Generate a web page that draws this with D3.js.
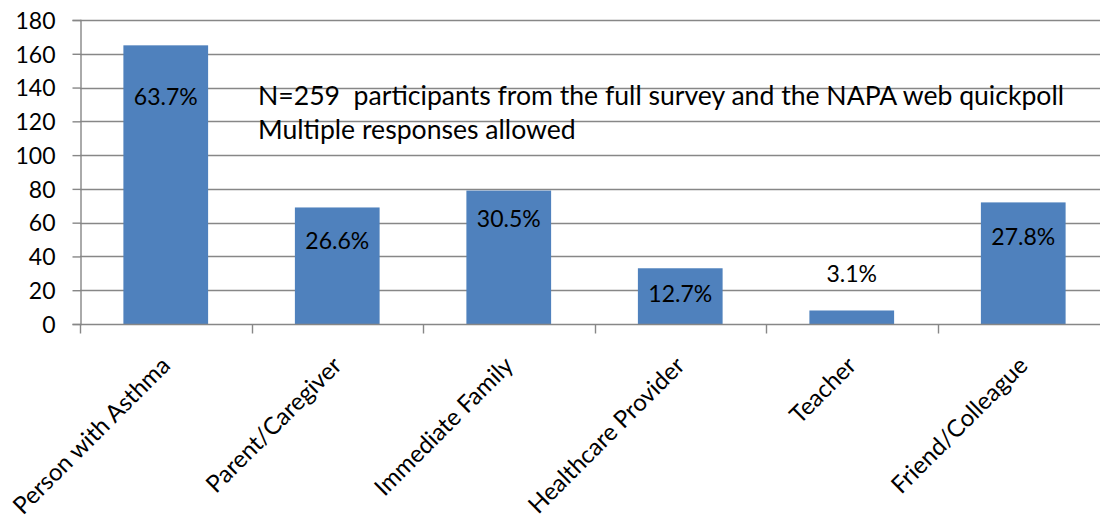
<!DOCTYPE html>
<html>
<head>
<meta charset="utf-8">
<script src="https://cdn.jsdelivr.net/npm/d3@7/dist/d3.min.js"></script>
<style>
  html, body { margin: 0; padding: 0; background: #fff; }
  svg text { font-family: Lato, "Open Sans", sans-serif; fill: #000; }
</style>
</head>
<body>
<svg id="chart" width="1100" height="518"></svg>
<script>
// Survey respondents by relationship to asthma (counts, with share of N=259)
const categories = ["Person with Asthma", "Parent/Caregiver", "Immediate Family",
                    "Healthcare Provider", "Teacher", "Friend/Colleague"];
const counts = [165, 69, 79, 33, 8, 72];
const percentLabels = ["63.7%", "26.6%", "30.5%", "12.7%", "3.1%", "27.8%"];
const yTicks = [0, 20, 40, 60, 80, 100, 120, 140, 160, 180];
const noteLines = ["N=259  participants from the full survey and the NAPA web quickpoll",
                   "Multiple responses allowed"];

const svg = d3.select("#chart");
const fontSize = 23;
const gridColor = "#878787";
const barColor = "#4F81BD";

// Plot area (the category axis runs slightly past the right edge of the canvas)
const plotLeft = 80, plotTop = 20, plotBottom = 324;
const step = 171.5;
const plotRight = plotLeft + step * categories.length;

const x = d3.scaleBand()
  .domain(categories)
  .range([plotLeft, plotRight])
  .paddingInner(0.506)
  .paddingOuter(0.253);

const y = d3.scaleLinear().domain([0, 180]).range([plotBottom, plotTop]);

// Horizontal gridlines
svg.append("g")
  .selectAll("line")
  .data(yTicks.filter(d => d > 0))
  .join("line")
  .attr("x1", plotLeft).attr("x2", 1100)
  .attr("y1", d => Math.round(y(d)) + 0.5).attr("y2", d => Math.round(y(d)) + 0.5)
  .attr("stroke", gridColor).attr("stroke-width", 1.4);

// Bars
svg.append("g")
  .selectAll("rect")
  .data(counts)
  .join("rect")
  .attr("x", (d, i) => x(categories[i]))
  .attr("y", d => y(d))
  .attr("width", x.bandwidth())
  .attr("height", d => y(0) - y(d))
  .attr("fill", barColor);

// Y axis
const yAxis = svg.append("g")
  .attr("transform", `translate(${plotLeft + 0.5},0)`)
  .call(d3.axisLeft(y).tickValues(yTicks).tickSize(8).tickPadding(17).tickFormat(d3.format("d")));
yAxis.select(".domain").attr("stroke", gridColor).attr("stroke-width", 1.4);
yAxis.selectAll(".tick line").attr("stroke", gridColor).attr("stroke-width", 1.4);
yAxis.attr("font-family", null).attr("font-size", null);
yAxis.selectAll(".tick text")
  .style("font-size", fontSize + "px")
  .attr("dy", "0.36em");

// X axis: tick marks at the category boundaries
const xAxisG = svg.append("g").attr("transform", `translate(0,${Math.round(plotBottom) + 0.5})`);
xAxisG.append("line")
  .attr("x1", plotLeft).attr("x2", 1100)
  .attr("stroke", gridColor).attr("stroke-width", 1.4);
xAxisG.selectAll("line.tick")
  .data(d3.range(categories.length + 1))
  .join("line")
  .attr("class", "tick")
  .attr("x1", i => Math.round(plotLeft + i * x.step()) + 0.5)
  .attr("x2", i => Math.round(plotLeft + i * x.step()) + 0.5)
  .attr("y1", 0).attr("y2", 9)
  .attr("stroke", gridColor).attr("stroke-width", 1.4);

// Rotated category labels, ending just below each bar's centre
svg.append("g")
  .selectAll("text")
  .data(categories)
  .join("text")
  .attr("transform", d => `translate(${x(d) + x.bandwidth() / 2 + 6},${plotBottom + 43}) rotate(-45)`)
  .attr("text-anchor", "end")
  .style("font-size", "24px")
  .text(d => d);

// Percentage labels (offsets from bar top, in px; the small bar's label sits above it)
const labelDy = [60, 42, 36, 34, -28, 43];
svg.append("g")
  .selectAll("text")
  .data(counts)
  .join("text")
  .attr("x", (d, i) => x(categories[i]) + x.bandwidth() / 2)
  .attr("y", (d, i) => y(d) + labelDy[i])
  .attr("text-anchor", "middle")
  .style("font-size", fontSize + "px")
  .text((d, i) => percentLabels[i]);

// Note text (keeps the double space after "N=259")
svg.append("g")
  .selectAll("text")
  .data(noteLines)
  .join("text")
  .attr("x", 258)
  .attr("y", (d, i) => 105 + i * 34)
  .style("font-size", "26.6px")
  .style("white-space", "pre")
  .text(d => d);
</script>
</body>
</html>
